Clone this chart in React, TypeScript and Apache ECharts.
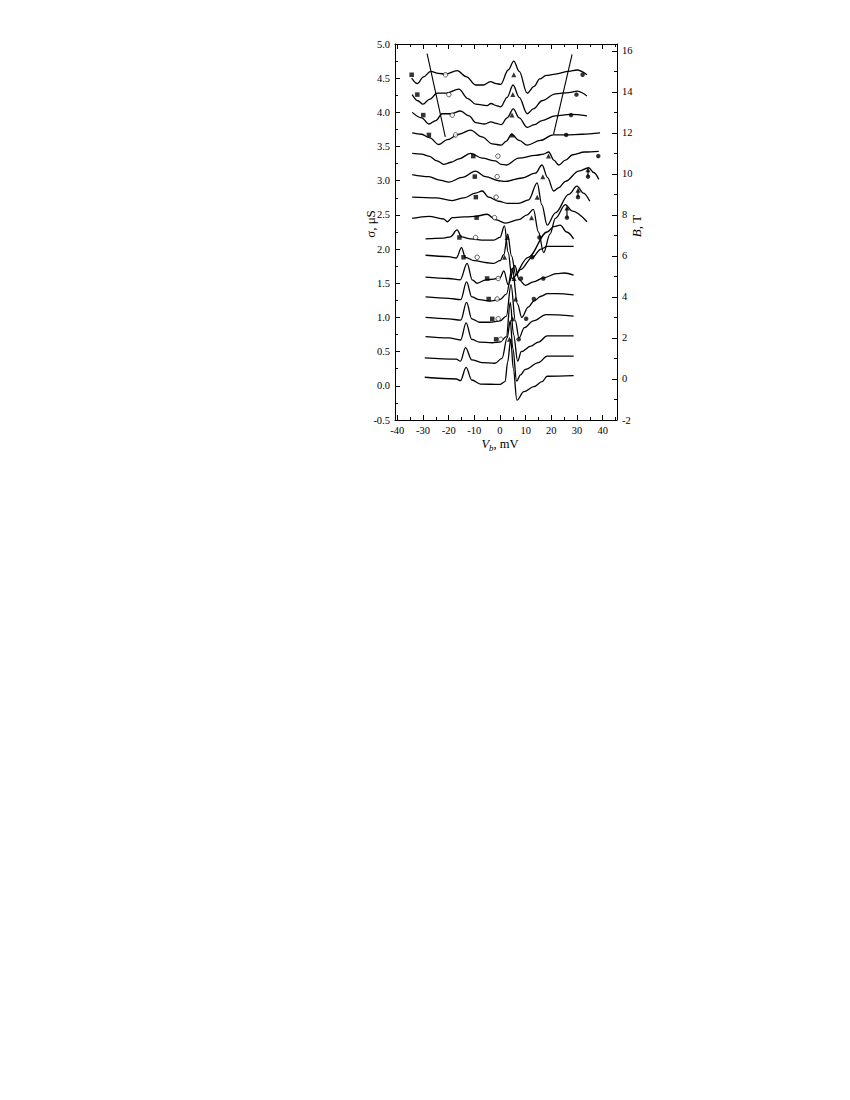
import React, { useEffect, useRef } from "react";
import * as echarts from "echarts";

// ---------- data (V_b in mV, sigma in µS) ----------
const fieldLabelsT = [15, 14, 13, 12, 11, 10, 9, 8, 7, 6, 5, 4, 3, 2, 1, 0];

const curveB15 = [[-34.4,4.50],[-32.2,4.42],[-29.8,4.52],[-27,4.60],[-24,4.57],[-21.2,4.56],[-16.7,4.61],[-13,4.52],[-9.5,4.40],[-6.5,4.40],[-3.7,4.45],[-1.5,4.42],[0.3,4.41],[3.2,4.62],[5.4,4.75],[7.5,4.60],[10.6,4.28],[13.3,4.38],[15.5,4.49],[18,4.54],[21.6,4.56],[26.8,4.60],[30,4.62],[33.9,4.55]];
const curveB14 = [[-34.2,4.26],[-32,4.17],[-30,4.12],[-27.5,4.19],[-24.4,4.28],[-21,4.28],[-16,4.34],[-12.5,4.20],[-9.5,4.12],[-5,4.10],[-3.5,4.13],[-1.5,4.10],[0.3,4.08],[2.8,4.22],[5.1,4.40],[7.5,4.22],[10.6,3.98],[13,4.05],[16.4,4.17],[21.6,4.27],[26.8,4.29],[30,4.31],[33.9,4.24]];
const curveB13 = [[-34.2,4.00],[-30.5,3.92],[-27.7,3.83],[-25,3.88],[-22.5,3.98],[-19,3.98],[-15.4,4.02],[-12,3.95],[-9.5,3.85],[-6,3.83],[-3.5,3.86],[-1.5,3.84],[0.5,3.82],[2.8,3.92],[5.2,4.05],[7.5,3.92],[10.6,3.78],[13.5,3.82],[16.4,3.88],[21.6,3.95],[27.4,3.97],[33.9,3.95]];
const curveB12 = [[-34.2,3.70],[-30.5,3.68],[-27.5,3.63],[-23.8,3.53],[-20.5,3.60],[-16,3.68],[-11.5,3.74],[-7,3.64],[-3,3.54],[0.5,3.52],[2.5,3.58],[4.5,3.68],[7.5,3.59],[10.6,3.52],[15.8,3.59],[20.7,3.67],[25.8,3.67],[32,3.68],[39,3.70]];
const curveB11 = [[-34.2,3.40],[-30.5,3.39],[-27.7,3.36],[-24.5,3.29],[-21.9,3.24],[-19,3.27],[-16,3.32],[-11.5,3.40],[-6.9,3.33],[-1.8,3.29],[0.5,3.24],[2.5,3.23],[7.3,3.33],[13.8,3.37],[17,3.39],[19,3.42],[21,3.30],[22.9,3.23],[25.5,3.30],[28.3,3.38],[33,3.42],[38.5,3.43]];
const curveB10 = [[-34.2,3.09],[-27.7,3.06],[-23.5,3.01],[-19.9,2.98],[-14.7,3.05],[-9.5,3.14],[-5.6,3.06],[-0.5,3.00],[2.1,2.99],[8.6,3.04],[13.8,3.11],[16.4,3.23],[18.5,3.05],[20.9,2.85],[23,2.90],[25.5,2.99],[30.7,3.14],[34.6,3.19],[36.5,3.12],[38.5,3.02]];
const curveB9 = [[-34.2,2.76],[-25.1,2.75],[-18.6,2.71],[-14,2.75],[-9.5,2.82],[-6.9,2.85],[-4.4,2.76],[-0.5,2.70],[2.8,2.67],[7.3,2.67],[11.2,2.72],[14.5,2.97],[16.3,2.65],[18.4,2.35],[21.6,2.53],[26.8,2.80],[30,2.92],[32.5,2.82],[35,2.70]];
const curveB8 = [[-34.2,2.45],[-27.7,2.48],[-21.9,2.44],[-20.5,2.40],[-18.6,2.46],[-9.5,2.48],[-5,2.51],[-1.7,2.43],[2.1,2.38],[7.3,2.43],[10.6,2.50],[13,2.58],[15,2.25],[17,1.95],[19.5,2.22],[21.6,2.45],[25.5,2.65],[28,2.56],[33.9,2.40]];
const curveB7 = [[-29,2.15],[-22,2.16],[-19.3,2.18],[-16.7,2.28],[-15,2.18],[-11.5,2.15],[-6,2.13],[-2.4,2.13],[0,2.17],[1.75,2.34],[3.2,1.95],[4.7,1.57],[11,1.88],[18.4,2.25],[21,2.33],[23.5,2.35],[26,2.25],[28.7,2.15]];
const curveB6 = [[-29,1.91],[-20,1.89],[-17,1.87],[-15,2.02],[-13.5,1.88],[-10,1.83],[-5,1.80],[-2.4,1.79],[0,1.83],[1.5,1.92],[3.0,2.22],[4.5,1.90],[6.2,1.62],[8,1.70],[12.6,1.88],[16,2.00],[18.4,2.04],[28.7,2.04]];
const curveB5 = [[-29,1.59],[-20,1.57],[-15.5,1.55],[-12.8,1.79],[-10.8,1.55],[-8.9,1.50],[-5.5,1.55],[-2.4,1.56],[0,1.58],[1.5,1.68],[3.2,1.48],[5.8,1.76],[7.5,1.55],[9.9,1.47],[13,1.52],[17,1.58],[22,1.64],[25,1.65],[28.7,1.62]];
const curveB4 = [[-29,1.30],[-20,1.28],[-15.3,1.26],[-13,1.52],[-11,1.30],[-8,1.26],[-4,1.24],[0,1.26],[2.5,1.34],[4.8,1.72],[6.8,1.20],[8.5,1.00],[11,1.15],[13.2,1.24],[16,1.31],[18.5,1.35],[22,1.35],[28.7,1.33]];
const curveB3 = [[-29,1.00],[-20,0.98],[-15.3,0.96],[-13,1.22],[-11,0.98],[-8,0.93],[-4,0.93],[0,0.95],[2.5,1.02],[4.3,1.48],[6,0.95],[7.4,0.70],[9.5,0.85],[13,0.95],[18,1.04],[28.7,1.02]];
const curveB2 = [[-29,0.72],[-20,0.70],[-15.3,0.67],[-13.2,0.92],[-11,0.68],[-8,0.64],[-3,0.63],[0,0.64],[2.5,0.72],[4.0,1.22],[5.3,0.75],[6.9,0.36],[8.3,0.50],[12,0.58],[15,0.64],[18.4,0.73],[28.7,0.73]];
const curveB1 = [[-29.3,0.41],[-17,0.39],[-15.4,0.36],[-13.4,0.56],[-11,0.38],[-7,0.34],[-2,0.33],[0.8,0.40],[2.8,0.70],[4.0,0.95],[5.0,0.55],[6.5,0.07],[8,0.16],[9.9,0.24],[15,0.34],[18.4,0.435],[28.7,0.435]];
const curveB0 = [[-29.3,0.125],[-17,0.10],[-15.4,0.075],[-13.2,0.27],[-11,0.085],[-7.6,0.026],[0,0.02],[2.0,0.06],[3.0,0.35],[4.2,0.68],[5.2,0.25],[6.6,-0.21],[9.3,-0.086],[13.2,-0.013],[16.4,0.06],[18.4,0.14],[28.7,0.148]];

const curves = [curveB15, curveB14, curveB13, curveB12, curveB11, curveB10, curveB9, curveB8,
  curveB7, curveB6, curveB5, curveB4, curveB3, curveB2, curveB1, curveB0];

// markers (fields 15 T ... 2 T)
const markerLevel = [4.55, 4.26, 3.96, 3.67, 3.36, 3.06, 2.76, 2.46, 2.17, 1.88, 1.57, 1.27, 0.98, 0.68];
const squareV = [-34.4, -32.2, -29.9, -27.7, -10.4, -9.8, -9.4, -9.1, -15.8, -14.2, -5.0, -4.4, -3.0, -1.5];
const openCircleV = [-21.2, -19.9, -18.6, -17.3, -0.8, -1.1, -1.5, -2.1, -9.5, -8.9, -0.7, -1.1, -0.7, 0.3];
const triangleV = [5.4, 5.0, 4.7, 4.7, 18.9, 16.7, 14.5, 12.3, 2.8, 1.8, 5.5, 6.1, 4.9, 3.7];
const filledCircleV = [32.2, 29.8, 27.7, 25.8, 38.3, 34.3, 30.4, 26.1, 15.4, 12.6, 8.2, 13.2, 10.2, 7.3];
const extraFilledCircle = [[16.9, 1.57]];

// arrows (10 T, 9 T, 8 T)
const arrowV = [34.3, 30.4, 26.1];
const arrowBase = [3.06, 2.76, 2.46];
const arrowTip = [3.16, 2.86, 2.60];

// guide lines
const leftGuide = [[-28.4, 4.86], [-21.3, 3.64]];
const rightGuide = [[20.9, 3.68], [28.1, 4.85]];

// axes
const X_MIN = -40.9;
const X_MAX = 45.6;
const xMajor = [-40, -30, -20, -10, 0, 10, 20, 30, 40];
const xMinor = [-35, -25, -15, -5, 5, 15, 25, 35, 45];
const S_MIN = -0.5;
const S_MAX = 5.0;
const B_MIN = -2;
const B_MAX = 16.33;
const bMajor = [-2, 0, 2, 4, 6, 8, 10, 12, 14, 16];
const bMinor = [-1, 1, 3, 5, 7, 9, 11, 13, 15];

const FONT = "Liberation Serif";

export default function App() {
  const ref = useRef<HTMLDivElement>(null);
  useEffect(() => {
    if (!ref.current) return;
    const chart = echarts.init(ref.current, null, { renderer: "svg" });
    const black = "#000";
    const tickLabel = { fontFamily: FONT, fontSize: 10.5, color: black };

    const xAxisBase = (position: string, major: boolean, labels: boolean) => ({
      type: "value",
      position,
      min: X_MIN,
      max: X_MAX,
      axisLine: { show: major, onZero: false, lineStyle: { color: black, width: 1 } },
      axisTick: { show: true, inside: true, length: major ? 5 : 3, customValues: major ? xMajor : xMinor, lineStyle: { color: black } },
      axisLabel: labels ? { show: true, customValues: xMajor, margin: 5, ...tickLabel } : { show: false },
      splitLine: { show: false },
    });

    const series: any[] = [];
    curves.forEach((c, i) => {
      series.push({
        name: "B = " + fieldLabelsT[i] + " T",
        type: "line",
        data: c,
        smooth: 0.35,
        smoothMonotone: "x",
        showSymbol: false,
        symbol: "none",
        lineStyle: { color: black, width: 1.3 },
        xAxisIndex: 0,
        yAxisIndex: 0,
        z: 2,
      });
    });
    [leftGuide, rightGuide].forEach((g, i) => {
      series.push({
        name: "guide" + i,
        type: "line",
        data: g,
        symbol: "none",
        lineStyle: { color: black, width: 1.1 },
        z: 3,
      });
    });
    arrowV.forEach((v, i) => {
      series.push({
        name: "arrow" + i,
        type: "line",
        data: [[v, arrowBase[i]], [v, arrowTip[i]]],
        symbol: "none",
        lineStyle: { color: black, width: 1.2 },
        z: 4,
      });
    });
    series.push({
      name: "tips",
      type: "scatter",
      symbol: "triangle",
      symbolSize: 5,
      data: arrowV.map((v, i) => [v, arrowTip[i]]),
      itemStyle: { color: black },
      z: 5,
    });
    series.push({
      name: "squares",
      type: "scatter",
      symbol: "rect",
      symbolSize: 4.5,
      data: squareV.map((v, i) => [v, markerLevel[i]]),
      itemStyle: { color: black },
      z: 5,
    });
    series.push({
      name: "openCircles",
      type: "scatter",
      symbol: "circle",
      symbolSize: 4.5,
      data: openCircleV.map((v, i) => [v, markerLevel[i]]),
      itemStyle: { color: "#fff", borderColor: black, borderWidth: 0.8 },
      z: 5,
    });
    series.push({
      name: "triangles",
      type: "scatter",
      symbol: "triangle",
      symbolSize: 5,
      data: triangleV.map((v, i) => [v, markerLevel[i]]),
      itemStyle: { color: black },
      z: 5,
    });
    series.push({
      name: "filledCircles",
      type: "scatter",
      symbol: "circle",
      symbolSize: 4.5,
      data: filledCircleV.map((v, i) => [v, markerLevel[i]]).concat(extraFilledCircle),
      itemStyle: { color: black },
      z: 5,
    });

    const option: any = {
      animation: false,
      backgroundColor: "#fff",
      textStyle: { fontFamily: FONT, color: black },
      grid: { left: 387, top: 36, width: 222, height: 376, containLabel: false },
      xAxis: [
        xAxisBase("bottom", true, true),
        xAxisBase("bottom", false, false),
        xAxisBase("top", true, false),
        xAxisBase("top", false, false),
      ],
      yAxis: [
        {
          type: "value",
          position: "left",
          min: S_MIN,
          max: S_MAX,
          interval: 0.5,
          axisLine: { show: true, onZero: false, lineStyle: { color: black, width: 1 } },
          axisTick: { show: true, inside: true, length: 5, lineStyle: { color: black } },
          minorTick: { show: true, splitNumber: 2, length: 3, lineStyle: { color: black } },
          axisLabel: { margin: 5, formatter: (v: number) => v.toFixed(1), ...tickLabel },
          splitLine: { show: false },
          minorSplitLine: { show: false },
        },
        {
          type: "value",
          position: "right",
          min: B_MIN,
          max: B_MAX,
          axisLine: { show: true, onZero: false, lineStyle: { color: black, width: 1 } },
          axisTick: { show: true, inside: true, length: 5, customValues: bMajor, lineStyle: { color: black } },
          axisLabel: { customValues: bMajor, margin: 5, ...tickLabel },
          splitLine: { show: false },
        },
        {
          type: "value",
          position: "right",
          min: B_MIN,
          max: B_MAX,
          axisLine: { show: false, onZero: false },
          axisTick: { show: true, inside: true, length: 3, customValues: bMinor, lineStyle: { color: black } },
          axisLabel: { show: false },
          splitLine: { show: false },
        },
      ],
      graphic: [
        {
          type: "text",
          x: 362,
          y: 216,
          rotation: Math.PI / 2,
          style: { text: "σ, μS", fontFamily: FONT, fontSize: 13, fill: black, align: "center", verticalAlign: "middle" },
        },
        {
          type: "text",
          x: 628,
          y: 218,
          rotation: Math.PI / 2,
          style: {
            text: "{i|B}, T",
            rich: { i: { fontStyle: "italic", fontFamily: FONT, fontSize: 13, fill: black } },
            fontFamily: FONT, fontSize: 13, fill: black, align: "center", verticalAlign: "middle",
          },
        },
        {
          type: "text",
          x: 492,
          y: 436,
          style: {
            text: "{i|V}{s|b}, mV",
            rich: {
              i: { fontStyle: "italic", fontFamily: FONT, fontSize: 12.5, fill: black },
              s: { fontStyle: "italic", fontFamily: FONT, fontSize: 9, fill: black, padding: [7, 0, 0, 0] },
            },
            fontFamily: FONT, fontSize: 12.5, fill: black, align: "center", verticalAlign: "middle",
          },
        },
      ],
      series,
    };
    chart.setOption(option);
    return () => chart.dispose();
  }, []);
  return <div ref={ref} style={{ width: 834, height: 1084 }} />;
}
